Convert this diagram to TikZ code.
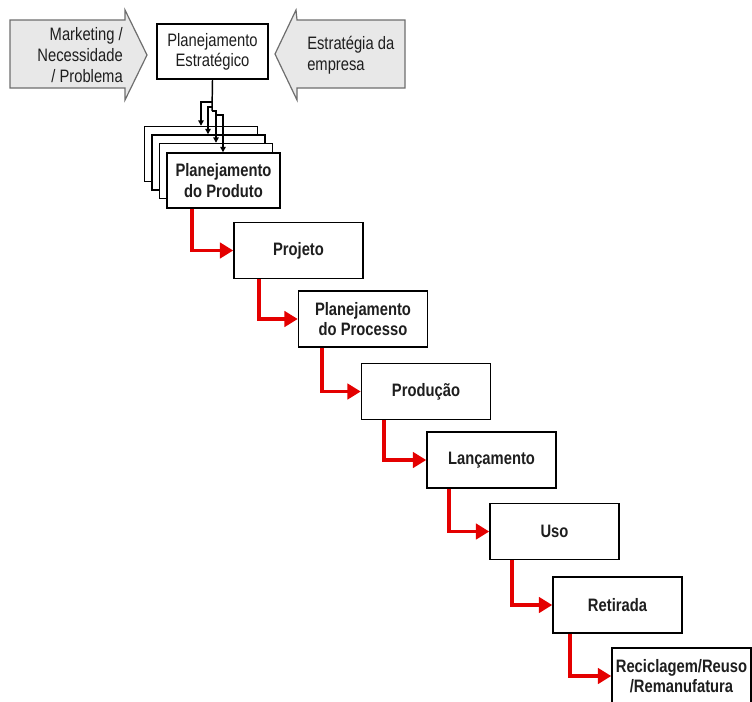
\documentclass[tikz,border=0pt]{standalone}
\usepackage{fontspec}
\setmainfont{Liberation Sans}[FakeStretch=0.82]
\usetikzlibrary{arrows.meta}
\definecolor{flowred}{RGB}{228,0,0}
\definecolor{inputfill}{RGB}{232,232,232}
\definecolor{inputdraw}{RGB}{110,110,110}
\definecolor{labeltext}{RGB}{30,30,30}
\begin{document}
\begin{tikzpicture}[x=0.75pt,y=-0.75pt,
  basebox/.style={draw=black, line width=1.1pt, fill=white, align=center,
    inner sep=0pt, text=labeltext},
  topbox/.style={basebox, minimum width=111*0.75pt, minimum height=55*0.75pt,
    font=\fontsize{13.5}{15}\selectfont},
  stackbox/.style={basebox, minimum width=113*0.75pt, minimum height=55*0.75pt,
    font=\fontsize{13.5}{15.5}\selectfont\bfseries},
  stepbox/.style={basebox, minimum width=129*0.75pt, minimum height=56*0.75pt,
    font=\fontsize{13.5}{15}\selectfont\bfseries},
  inputarrow/.style={draw=inputdraw, fill=inputfill, line width=0.9pt, line join=miter},
  inputtext/.style={text=labeltext, font=\fontsize{13.5}{15.5}\selectfont, inner sep=0pt},
  feed/.style={draw=black, line width=1.1pt, -{Triangle[length=4pt,width=4pt]}},
  feedline/.style={draw=black, line width=1.1pt},
  flow/.style={draw=flowred, line width=2.9pt, line join=miter,
    -{Triangle[length=10pt,width=11.5pt]}}
]
\useasboundingbox (0,0) rectangle (752,701);
\clip (0,0) rectangle (752,701);

% inputs feeding the strategic planning
\path[inputarrow] (10,20) -- (125,20) -- (125,10) -- (147,55) -- (125,100)
  -- (125,88) -- (10,88) -- cycle;
\node[inputtext, align=right, anchor=east] (mkt) at (123,55)
  {Marketing /\\Necessidade\\/ Problema};
\path[inputarrow] (405,20) -- (297,20) -- (296,10) -- (275,54) -- (297,100)
  -- (297,88) -- (405,88) -- cycle;
\node[inputtext, align=left, anchor=west] (emp) at (307,55)
  {Estratégia da\\empresa};

% strategic planning
\node[topbox] (est) at (212.5,51.5) {Planejamento\\Estratégico};

% stack of product plans
\node[stackbox] (b1) at (201,154) {};
\node[stackbox] (b2) at (208.5,162.5) {};
\node[stackbox] (b3) at (216,171) {};
\node[stackbox] (prod) at (223.5,180.5) {Planejamento\\do Produto};

% branching feed from strategic planning to each plan
\coordinate (t1) at (212,102);
\coordinate (t2) at (212,107);
\coordinate (t3) at (212,111);
\coordinate (j1) at (201,102);
\coordinate (j2) at (208,107);
\coordinate (j3) at (216,111);
\coordinate (k3) at (216,115);
\coordinate (j4) at (223,115);
\draw[feedline] (est.south) -- (t3);
\draw[feed] (t1) -- (j1) -- (j1 |- b1.north);
\draw[feed] (t2) -- (j2) -- (j2 |- b2.north);
\draw[feed] (t3) -- (j3) -- (j3 |- b3.north);
\draw[feed] (k3) -- (j4) -- (j4 |- prod.north);

% product life cycle stages
\node[stepbox] (proj) at (298.5,250.5) {Projeto};
\node[stepbox] (proc) at (363,319) {Planejamento\\do Processo};
\node[stepbox] (pdc) at (426,391.5) {Produção};
\node[stepbox] (lanc) at (491.5,460) {Lançamento};
\node[stepbox] (uso) at (554.5,531.5) {Uso};
\node[stepbox] (ret) at (617.5,605) {Retirada};
\node[basebox, minimum width=139*0.75pt, minimum height=56*0.75pt,
  font=\fontsize{13.5}{15.5}\selectfont\bfseries] (rec) at (681.5,676)
  {Reciclagem/Reuso\\/Remanufatura};

% flow between stages
\draw[flow] ([xshift=26*0.75pt]prod.south west) |- (proj.west);
\draw[flow] ([xshift=26*0.75pt]proj.south west) |- (proc.west);
\draw[flow] ([xshift=24*0.75pt]proc.south west) |- (pdc.west);
\draw[flow] ([xshift=23*0.75pt]pdc.south west) |- (lanc.west);
\draw[flow] ([xshift=23*0.75pt]lanc.south west) |- (uso.west);
\draw[flow] ([xshift=23*0.75pt]uso.south west) |- (ret.west);
\draw[flow] ([xshift=18*0.75pt]ret.south west) |- (rec.west);
\end{tikzpicture}
\end{document}
